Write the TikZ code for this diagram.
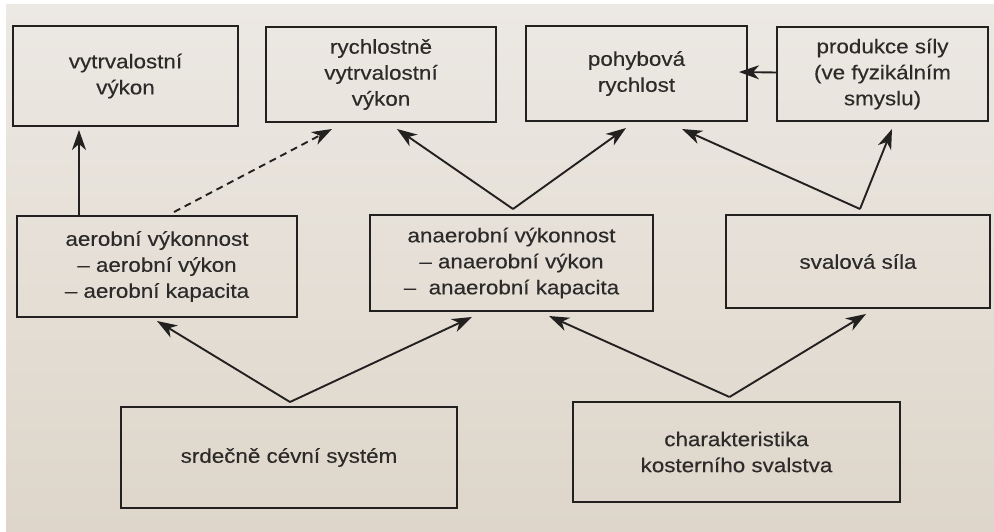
\documentclass[tikz,border=0pt]{standalone}
\usepackage{fontspec}
\setmainfont[FakeStretch=1.12,FakeBold=0.3]{Liberation Sans}
\usetikzlibrary{arrows.meta,calc}

\definecolor{paperTop}{RGB}{236,232,227}
\definecolor{paperBot}{RGB}{222,214,202}
\definecolor{ink}{RGB}{34,33,32}
\definecolor{txt}{RGB}{44,43,42}

\tikzset{
  box/.style={draw=ink, line width=2pt, align=center, text=txt,
    font=\fontsize{20pt}{26pt}\selectfont, inner sep=0pt},
  arr/.style={draw=ink, line width=1.9pt,
    -{Stealth[length=20pt,width=14pt,inset=6pt]}},
  dasharr/.style={arr, dash pattern=on 7pt off 5pt}
}

\begin{document}
\begin{tikzpicture}[x=1pt,y=-1pt]
  % paper
  \fill[white] (0,0) rectangle (994,532);
  \shade[top color=paperTop, bottom color=paperBot] (6,5) rectangle (994,532);
  \useasboundingbox (0,0) rectangle (994,532);

  % top row
  \node[box, minimum width=225pt, minimum height=100pt] (b1) at (125.5,76)
    {vytrvalostní\\výkon};
  \node[box, minimum width=230pt, minimum height=95pt] (b2) at (381,74.5)
    {rychlostně\\vytrvalostní\\výkon};
  \node[box, minimum width=221pt, minimum height=95pt] (b3) at (636.5,73.5)
    {pohybová\\rychlost};
  \node[box, minimum width=211pt, minimum height=94pt] (b4) at (882.5,74)
    {produkce síly\\(ve fyzikálním\\smyslu)};

  % middle row
  \node[box, minimum width=280pt, minimum height=101pt] (b5) at (157,266.5)
    {aerobní výkonnost\\– aerobní výkon\\– aerobní kapacita};
  \node[box, minimum width=283pt, minimum height=96pt] (b6) at (511.5,263)
    {anaerobní výkonnost\\– anaerobní výkon\\–\ \ anaerobní kapacita};
  \node[box, minimum width=264pt, minimum height=93pt] (b7) at (858,261.5)
    {svalová síla};

  % bottom row
  \node[box, minimum width=336pt, minimum height=101pt] (b8) at (289,457.5)
    {srdečně cévní systém};
  \node[box, minimum width=327pt, minimum height=100pt] (b9) at (736.5,452)
    {charakteristika\\kosterního svalstva};

  % apexes of the forked connectors
  \coordinate (a8) at ([xshift=1pt,yshift=4pt]b8.north);
  \coordinate (a9) at ([xshift=-7pt,yshift=4pt]b9.north);
  \coordinate (a6) at ([xshift=1.5pt,yshift=5pt]b6.north);
  \coordinate (a7) at ([xshift=2pt,yshift=5pt]b7.north);

  % connectors from the bottom row
  \draw[arr] (a8) -- ([xshift=141pt,yshift=-3pt]b5.south west);
  \draw[arr] (a8) -- ([xshift=103pt,yshift=-5pt]b6.south west);
  \draw[arr] (a9) -- ([xshift=180pt,yshift=-4pt]b6.south west);
  \draw[arr] (a9) -- ([xshift=141pt,yshift=-5pt]b7.south west);

  % connectors from the middle row
  \draw[arr] ([xshift=63pt]b5.north west) -- ([xshift=67pt,yshift=-3pt]b1.south west);
  \draw[dasharr] ([xshift=158pt,yshift=3pt]b5.north west) -- ([xshift=67pt,yshift=-6pt]b2.south west);
  \draw[arr] (a6) -- ([xshift=132pt,yshift=-6pt]b2.south west);
  \draw[arr] (a6) -- ([xshift=101pt,yshift=-6pt]b3.south west);
  \draw[arr] (a7) -- ([xshift=157pt,yshift=-7pt]b3.south west);
  \draw[arr] (a7) -- ([xshift=116pt,yshift=-7pt]b4.south west);

  % force production feeds movement speed
  \draw[arr] ([yshift=1.5pt]b4.west) -- ([xshift=-9pt,yshift=1.5pt]b3.east);
\end{tikzpicture}
\end{document}
